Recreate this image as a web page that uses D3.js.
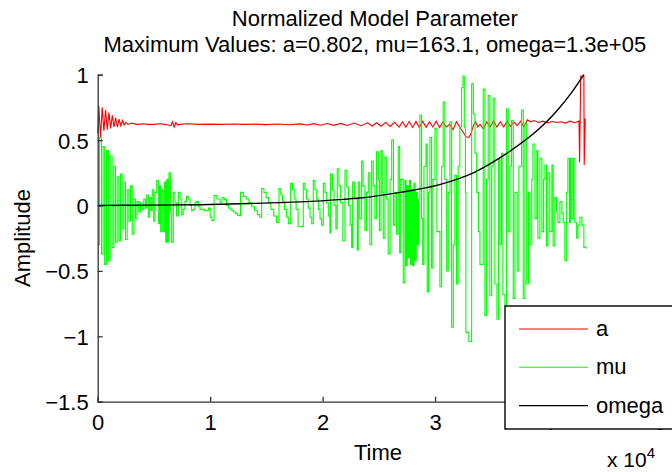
<!DOCTYPE html>
<html lang="en">

<head>
  <meta charset="UTF-8">
  <title>Normalized Model Parameter</title>
  <style>
    * {
      margin: 0;
      padding: 0;
      box-sizing: border-box;
    }

    body {
      background-color: white;
      width: 672px;
      height: 472px;
      overflow: hidden;
    }

    svg text {
      font-family: "Liberation Sans", Arial, sans-serif;
      fill: #000;
    }
  </style>
  <script src="https://cdnjs.cloudflare.com/ajax/libs/d3/7.8.5/d3.min.js"></script>
</head>

<body>
  <svg id="chart" width="672" height="472"></svg>

  <script>
    // Chart data (time in seconds, amplitude normalized)
    const xTicks = [0, 10000, 20000, 30000, 40000, 50000];
    const yTicks = [1, 0.5, 0, -0.5, -1, -1.5];
    const seriesNames = ['a', 'mu', 'omega'];
    const seriesColors = ['#ff0000', '#00ff00', '#000000'];

    const aPoints = [
      [0, 0.55], [100, 0.76], [250, 0.52], [400, 0.75], [550, 0.57], [700, 0.73], [850, 0.58],
      [1000, 0.71], [1150, 0.59], [1300, 0.69], [1450, 0.6], [1600, 0.67], [1750, 0.6],
      [1900, 0.66], [2050, 0.61], [2200, 0.65], [2350, 0.615], [2500, 0.635], [2700, 0.62],
      [3000, 0.63], [3500, 0.62], [4000, 0.625], [4500, 0.62], [5000, 0.62], [5500, 0.625],
      [6000, 0.62], [6500, 0.61], [6650, 0.64], [6800, 0.6], [6950, 0.635], [7100, 0.615],
      [7300, 0.62], [8000, 0.625], [9000, 0.62], [10000, 0.622], [11000, 0.62], [12000, 0.623],
      [13000, 0.62], [14000, 0.622], [15000, 0.618], [16000, 0.623], [17000, 0.617],
      [18000, 0.624], [18600, 0.615], [19200, 0.626], [19800, 0.614], [20400, 0.627],
      [21000, 0.613], [21600, 0.628], [22200, 0.612], [22800, 0.63], [23400, 0.61],
      [24000, 0.632], [24400, 0.608], [24800, 0.633], [25200, 0.606], [25600, 0.635],
      [26000, 0.604], [26400, 0.636], [26800, 0.6], [27100, 0.64], [27400, 0.598],
      [27700, 0.642], [28000, 0.597], [28300, 0.643], [28600, 0.596], [28900, 0.645],
      [29200, 0.598], [29500, 0.64], [29800, 0.6], [30100, 0.645], [30400, 0.595],
      [30700, 0.64], [31000, 0.6], [31300, 0.62], [31600, 0.58], [31900, 0.64],
      [32200, 0.6], [32500, 0.56], [32750, 0.525], [33000, 0.52], [33200, 0.55],
      [33400, 0.61], [33600, 0.64], [33800, 0.6], [34000, 0.62], [34300, 0.585],
      [34600, 0.64], [34900, 0.6], [35200, 0.645], [35500, 0.6], [35800, 0.64],
      [36100, 0.6], [36400, 0.645], [36700, 0.605], [37000, 0.64], [37300, 0.61],
      [37600, 0.645], [37900, 0.6], [38200, 0.655], [38500, 0.64], [38800, 0.65],
      [39200, 0.635], [39600, 0.645], [40000, 0.632], [40400, 0.642], [40800, 0.635],
      [41200, 0.64], [41600, 0.63], [42000, 0.645], [42400, 0.633], [42800, 0.645],
      [42850, 0.33], [42950, 0.99], [43230, 0.99], [43260, 0.31], [43350, 0.66], [43410, 0.66]
    ];

    const muPoints = [
      [0, -0.30], [150, 0.52], [330, -0.37], [480, 0.45], [620, -0.45], [780, 0.42], [950, -0.42],
      [1100, 0.38], [1280, -0.32], [1430, 0.30], [1580, -0.28], [1730, 0.22], [1880, -0.27],
      [2020, 0.24], [2170, -0.18], [2320, 0.18], [2470, -0.26], [2620, 0.12], [2770, -0.12],
      [2920, 0.15], [3070, -0.22], [3220, 0.05], [3370, -0.10],
      [3500, 0.03], [3650, -0.05], [3800, 0.02], [3950, -0.03], [4100, 0.05], [4250, -0.02],
      [4360, 0.08], [4500, -0.09], [4620, 0.06], [4740, -0.04], [4850, 0.12], [4980, -0.12],
      [5100, 0.1], [5250, 0.19], [5390, -0.14], [5500, 0.15], [5600, -0.2], [5720, 0.12],
      [5830, -0.2], [5950, 0.18], [6050, -0.28], [6150, 0.2], [6250, -0.28], [6340, 0.25],
      [6460, -0.05], [6580, -0.28], [6720, 0.1], [6870, 0.02], [7000, -0.08], [7170, 0.1],
      [7320, 0.05], [7470, -0.07], [7600, -0.03], [7760, 0.03], [7900, 0.07], [8050, 0.05],
      [8210, 0.0], [8350, -0.04], [8500, -0.03], [8650, 0.02], [8800, 0.03], [8950, -0.01],
      [9100, -0.03], [9500, -0.04], [9850, -0.02], [10000, -0.09], [10150, -0.115],
      [10350, 0.077], [10600, 0.05], [10870, 0.025], [11050, 0.06], [11250, 0.045],
      [11450, 0.0], [11650, -0.02], [11850, -0.035], [12050, -0.05], [12250, -0.06],
      [12450, -0.077], [12700, 0.1], [12950, 0.07], [13200, 0.05], [13450, 0.02],
      [13700, -0.01], [13950, -0.04], [14200, -0.07], [14400, -0.09], [14580, 0.13],
      [14780, 0.1], [14980, 0.06], [15180, 0.02], [15400, -0.03], [15650, -0.08],
      [15900, -0.13], [16120, 0.13], [16280, 0.08], [16440, 0.03], [16600, -0.03],
      [16780, -0.09], [16950, -0.14], [17160, 0.17], [17320, 0.12], [17480, 0.05],
      [17640, -0.03], [17820, -0.16],
      [18280, 0.17], [18420, 0.12], [18570, 0.05], [18720, -0.02], [18880, -0.09], [19030, -0.14],
      [19170, 0.19], [19320, 0.12], [19470, 0.05], [19620, -0.03], [19770, -0.1], [19910, -0.15],
      [20060, 0.17], [20210, 0.1], [20360, 0.02], [20510, -0.08], [20650, -0.21], [20710, 0.24],
      [20870, 0.12], [21020, 0.0], [21180, -0.18], [21300, 0.28], [21450, 0.15], [21600, 0.02],
      [21800, -0.27], [21990, 0.27], [22150, 0.14], [22300, 0.0], [22450, -0.15], [22580, -0.32],
      [22670, 0.18], [22850, 0.05], [23080, -0.34], [23170, 0.18], [23300, -0.1], [23470, 0.34],
      [23600, 0.15], [23760, -0.19], [23900, 0.1], [24060, 0.25], [24200, -0.3], [24360, 0.34],
      [24500, 0.15], [24650, -0.1], [24800, 0.41], [24950, 0.2], [25050, -0.19], [25190, 0.42],
      [25300, 0.1], [25390, -0.25], [25540, 0.37], [25700, 0.05], [25830, -0.37], [26000, 0.2],
      [26140, 0.5], [26300, -0.15], [26430, 0.1], [26580, -0.22], [26720, 0.45],
      [26850, -0.36], [26960, 0.2], [27170, -0.59], [27320, 0.19], [27420, -0.46], [27520, 0.15],
      [27620, -0.4], [27720, 0.19], [27820, -0.45], [27920, 0.12], [28020, -0.46], [28120, 0.17],
      [28220, -0.42], [28320, 0.1], [28420, -0.3], [28520, 0.05], [28650, 0.69], [28800, -0.1],
      [28900, -0.45], [29010, 0.3], [29190, 0.47], [29300, -0.66], [29420, 0.1], [29540, 0.52],
      [29690, -0.48], [29810, 0.2], [29990, 0.59], [30160, -0.2], [30430, -0.62], [30580, 0.3],
      [30720, 0.79], [30870, 0.2], [31030, -0.5], [31170, 0.1], [31320, 0.64], [31470, -0.93],
      [31620, -0.3], [31760, 0.23], [31910, -0.6], [32050, 0.3], [32200, 0.6], [32360, 0.9],
      [32480, 0.99], [32600, 0.6], [32700, 0.1], [32740, -0.97], [33000, -1.04], [33250, 0.93],
      [33400, 0.7], [33550, 0.4], [33700, 0.1], [33850, -0.2], [33990, -0.45],
      [34280, 0.89], [34430, -0.84], [34580, 0.2], [34720, 0.84], [34870, -0.69], [35030, 0.3],
      [35170, 0.82], [35320, -0.6], [35500, -0.87], [35650, 0.35], [35760, -0.3], [35900, 0.4],
      [36030, -0.68], [36210, -0.76], [36360, 0.74], [36500, -0.2], [36650, 0.3], [36800, 0.65],
      [36950, -0.71], [37100, 0.1], [37300, -0.5], [37450, 0.3], [37690, 0.73], [37840, -0.71],
      [37990, 0.63], [38150, -0.6], [38300, 0.1], [38430, -0.3], [38600, 0.2], [38700, 0.47],
      [38880, -0.1], [39050, 0.42], [39140, -0.25], [39320, 0.36], [39500, -0.2], [39650, 0.2],
      [39770, 0.31], [39900, -0.31], [40030, 0.25], [40200, -0.2], [40390, 0.31], [40500, -0.31],
      [40650, 0.06], [40800, -0.05], [40920, -0.13], [41100, 0.03], [41280, -0.06], [41400, -0.13],
      [41540, -0.42], [41700, 0.1], [41810, 0.36], [41950, -0.13], [42050, 0.36], [42170, -0.1],
      [42300, 0.36], [42430, -0.13], [42590, -0.25], [42700, -0.15], [42880, -0.09],
      [43060, -0.15], [43230, -0.32], [43410, -0.33]
    ];

    const omegaPoints = [
      [0, 0], [4650, 0.003], [9100, 0.006], [13500, 0.015], [18000, 0.028], [21500, 0.045],
      [23300, 0.057], [26900, 0.1], [30400, 0.16], [33400, 0.25], [36400, 0.4], [39300, 0.59],
      [40800, 0.72], [42200, 0.87], [43230, 1.0]
    ];

    const allSeries = [aPoints, muPoints, omegaPoints];
    const maxValues = { a: 0.802, mu: 163.1, omega: 1.3e+05 };

    const svg = d3.select('#chart');
    const plotLeft = 97.7, plotRight = 660, plotTop = 74.7, plotBottom = 401.7;

    const x = d3.scaleLinear().domain([0, 50000]).range([plotLeft, plotRight]);
    const y = d3.scaleLinear().domain([-1.5, 1]).range([plotBottom, plotTop]);

    // titles
    svg.append('text')
      .attr('x', (plotLeft + plotRight) / 2 - 4).attr('y', 26)
      .attr('text-anchor', 'middle').style('font-size', '22px')
      .text('Normalized Model Parameter');
    svg.append('text')
      .attr('x', (plotLeft + plotRight) / 2 - 4).attr('y', 52)
      .attr('text-anchor', 'middle').style('font-size', '22px')
      .text(`Maximum Values: a=${maxValues.a}, mu=${maxValues.mu}, omega=${d3.format('.1e')(maxValues.omega).replace('e+5', 'e+05')}`);

    // series lines (step for mu)
    const curves = [d3.curveLinear, d3.curveStepAfter, d3.curveMonotoneX];
    allSeries.forEach((pts, i) => {
      const line = d3.line()
        .x(d => x(d[0]))
        .y(d => y(d[1]))
        .curve(curves[i]);
      svg.append('path')
        .datum(pts)
        .attr('d', line)
        .attr('fill', 'none')
        .attr('stroke', seriesColors[i])
        .attr('stroke-width', i === 2 ? 1.4 : 1.1)
        .attr('stroke-linejoin', 'miter');
    });

    // axes (only left and bottom, ticks pointing inward)
    const xAxis = d3.axisBottom(x).tickValues(xTicks).tickSize(-5).tickPadding(13)
      .tickFormat(d => d / 10000);
    const yAxis = d3.axisLeft(y).tickValues(yTicks).tickSize(-5).tickPadding(9)
      .tickFormat(d => String(d).replace('-', '\u2212'));

    const gx = svg.append('g').attr('transform', `translate(0,${plotBottom})`).call(xAxis);
    const gy = svg.append('g').attr('transform', `translate(${plotLeft},0)`).call(yAxis);
    [gx, gy].forEach(g => {
      g.select('.domain').attr('stroke', '#333').attr('stroke-width', 1.3);
      g.selectAll('.tick line').attr('stroke', '#333').attr('stroke-width', 1.3);
      g.selectAll('.tick text')
        .style('font-family', '"Liberation Sans", Arial, sans-serif')
        .style('font-size', '22px').attr('fill', '#000');
    });
    gy.selectAll('.tick text').attr('dy', '0.36em');

    // axis labels
    svg.append('text')
      .attr('x', 378).attr('y', 460)
      .attr('text-anchor', 'middle').style('font-size', '22px')
      .text('Time');
    svg.append('text')
      .attr('transform', 'translate(30,238) rotate(-90)')
      .attr('text-anchor', 'middle').style('font-size', '22px')
      .text('Amplitude');

    const expLabel = svg.append('text')
      .attr('x', 655).attr('y', 467)
      .attr('text-anchor', 'end').style('font-size', '21px');
    expLabel.append('tspan').text('x 10');
    expLabel.append('tspan').attr('dy', -9).style('font-size', '15px').text('4');

    // legend
    const legend = svg.append('g');
    legend.append('rect')
      .attr('x', 505).attr('y', 306)
      .attr('width', 180).attr('height', 123)
      .attr('fill', 'white').attr('stroke', '#000').attr('stroke-width', 1.4);
    seriesNames.forEach((name, i) => {
      const ly = 329 + i * 38.3;
      legend.append('line')
        .attr('x1', 519).attr('x2', 588)
        .attr('y1', ly).attr('y2', ly)
        .attr('stroke', seriesColors[i]).attr('stroke-width', 1.1);
      legend.append('text')
        .attr('x', 596).attr('y', ly + 7)
        .style('font-size', '22px')
        .text(name);
    });
  </script>
</body>

</html>
